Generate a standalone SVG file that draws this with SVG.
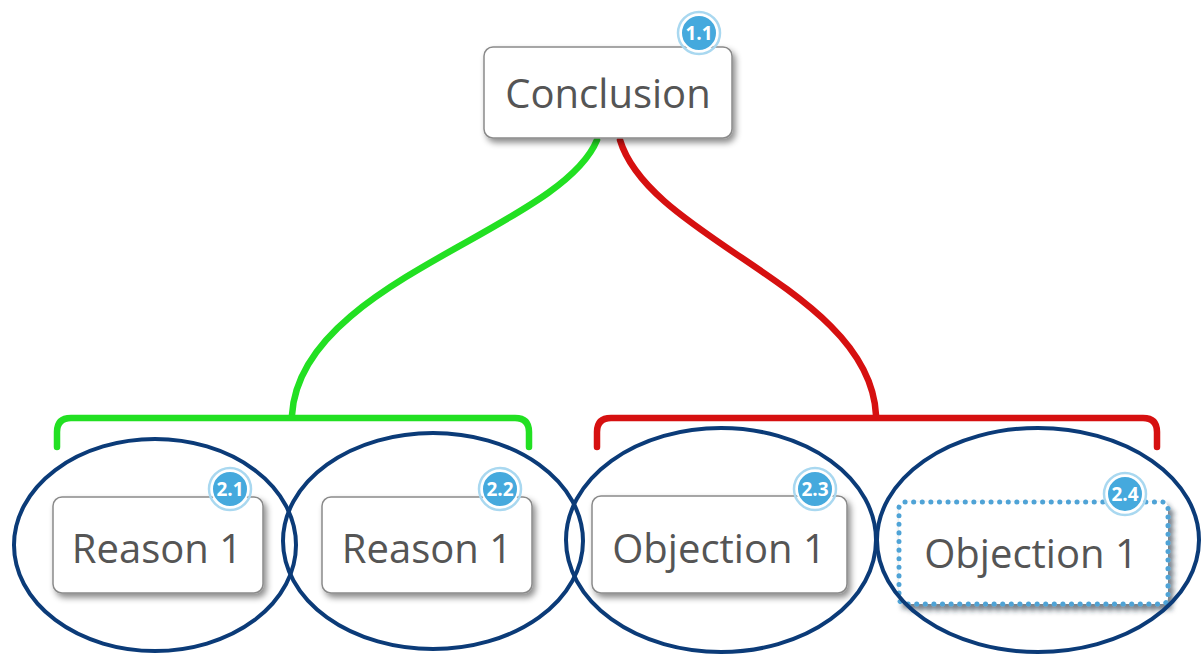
<svg xmlns="http://www.w3.org/2000/svg" width="1202" height="656" viewBox="0 0 1202 656">
<defs>
<filter id="sh" x="-10%" y="-10%" width="130%" height="140%">
<feDropShadow dx="3" dy="4" stdDeviation="3" flood-color="#000" flood-opacity="0.45"/>
</filter>
<filter id="sh2" x="-10%" y="-10%" width="130%" height="140%">
<feDropShadow dx="4" dy="5" stdDeviation="2.5" flood-color="#1a2a3a" flood-opacity="0.6"/>
</filter>
<style>
.box{fill:#fff;stroke:#8a8a8a;stroke-width:1.5;filter:url(#sh)}
.dot{fill:#fff;stroke:#4fa3d6;stroke-width:5;stroke-dasharray:0.1 8.5;stroke-linecap:round;filter:url(#sh2)}
.lbl{font-family:"Open Sans","Liberation Sans",sans-serif;font-size:40px;fill:#555;text-anchor:middle}
.bdg{fill:#45a9dd;stroke:#fff;stroke-width:2}
.bring{fill:none;stroke:#a9d8f0;stroke-width:2.5}
.btx{font-family:"Open Sans","Liberation Sans",sans-serif;font-size:19px;font-weight:bold;fill:#fff;text-anchor:middle}
.g{fill:none;stroke:#22e022;stroke-width:6.5;stroke-linecap:round}
.r{fill:none;stroke:#d61010;stroke-width:6.5;stroke-linecap:round}
.ell{fill:none;stroke:#0b3b78;stroke-width:4}
</style>
</defs>
<rect width="1202" height="656" fill="#fff"/>
<g id="connectors">
<path class="g" d="M597,140 C560,230 300,280 292,415"/>
<path class="r" d="M620,140 C650,240 870,290 876,415"/>
<path class="g" d="M57,447 L57,432 Q57,418 71,418 L515,418 Q529,418 529,432 L529,447"/>
<path class="r" d="M597,447 L597,432 Q597,418 611,418 L1143,418 Q1157,418 1157,432 L1157,447"/>
</g>
<g id="n11">
<rect class="box" x="484" y="47" width="248" height="91" rx="9"/>
<text class="lbl" x="608" y="108">Conclusion</text>
<circle class="bring" cx="699" cy="33" r="21"/>
<circle class="bdg" cx="699" cy="33" r="18"/>
<text class="btx" x="699" y="40">1.1</text>
</g>
<g id="n21">
<rect class="box" x="53" y="497" width="210" height="96" rx="9"/>
<text class="lbl" x="157" y="563">Reason 1</text>
<circle class="bring" cx="230" cy="489" r="21"/>
<circle class="bdg" cx="230" cy="489" r="18"/>
<text class="btx" x="230" y="496">2.1</text>
</g>
<g id="n22">
<rect class="box" x="322" y="497" width="210" height="96" rx="9"/>
<text class="lbl" x="427" y="563">Reason 1</text>
<circle class="bring" cx="500" cy="489" r="21"/>
<circle class="bdg" cx="500" cy="489" r="18"/>
<text class="btx" x="500" y="496">2.2</text>
</g>
<g id="n23">
<rect class="box" x="592" y="496" width="255" height="97" rx="9"/>
<text class="lbl" x="719" y="563">Objection 1</text>
<circle class="bring" cx="815" cy="489" r="21"/>
<circle class="bdg" cx="815" cy="489" r="18"/>
<text class="btx" x="815" y="496">2.3</text>
</g>
<g id="n24">
<rect class="dot" x="899" y="502" width="269" height="102" rx="6"/>
<text class="lbl" x="1031" y="568">Objection 1</text>
<circle class="bring" cx="1125" cy="494" r="21"/>
<circle class="bdg" cx="1125" cy="494" r="18"/>
<text class="btx" x="1125" y="501">2.4</text>
</g>
<g id="highlights">
<ellipse class="ell" cx="155" cy="545" rx="141" ry="106"/>
<ellipse class="ell" cx="433" cy="541" rx="150" ry="108"/>
<ellipse class="ell" cx="721" cy="540" rx="155" ry="112"/>
<ellipse class="ell" cx="1038" cy="540" rx="161" ry="112"/>
</g>
</svg>
